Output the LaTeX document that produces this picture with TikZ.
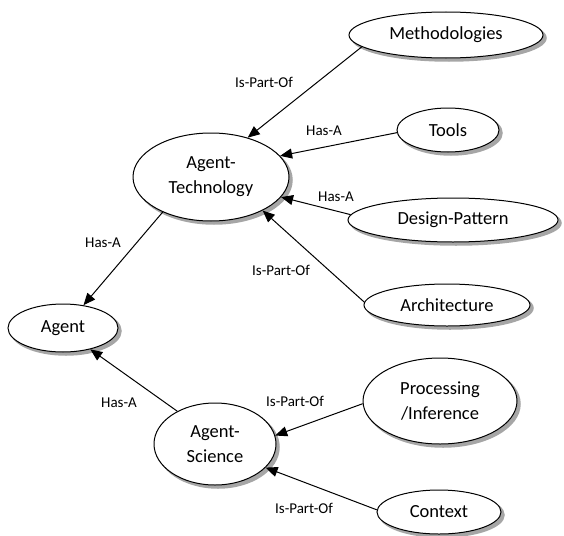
\documentclass[tikz,border=0pt]{standalone}
\usepackage{fontspec}
\setmainfont{Carlito}
\usetikzlibrary{shapes.geometric,shadows,arrows.meta}
\begin{document}
\begin{tikzpicture}[x=1pt,y=-1pt,
  concept/.style={ellipse,draw=black,line width=1pt,fill=white,inner sep=0pt,
    align=center,font=\fontsize{18.5}{25}\selectfont,
    general shadow={shadow xshift=3pt,shadow yshift=-3pt,draw=black!35,line width=1.5pt,fill=black!35}},
  rel/.style={draw=black,line width=1pt,-{Triangle[length=12pt,width=10pt]}},
  lab/.style={font=\fontsize{15}{18}\selectfont,inner sep=0pt}]
\useasboundingbox (0,0) rectangle (564,535);
\node[concept,minimum width=194pt,minimum height=46pt] (meth) at (446,35) {Methodologies};
\node[concept,minimum width=102pt,minimum height=44pt] (tools) at (448,130) {Tools};
\node[concept,minimum width=156pt,minimum height=88pt] (at) at (211,177) {Agent-\\Technology};
\node[concept,minimum width=210pt,minimum height=44pt] (dp) at (453,220) {Design-Pattern};
\node[concept,minimum width=166pt,minimum height=42pt] (arch) at (447,305) {Architecture};
\node[concept,minimum width=110pt,minimum height=48pt] (agent) at (63,328) {Agent};
\node[concept,minimum width=154pt,minimum height=86pt] (proc) at (440,401) {Processing\\/Inference};
\node[concept,minimum width=122pt,minimum height=82pt] (as) at (215,444) {Agent-\\Science};
\node[concept,minimum width=124pt,minimum height=44pt] (ctx) at (439,512) {Context};

\draw[rel] (meth.188) -- (at.47);
\draw[rel] (tools.183) -- (at.17);
\draw[rel] (dp.177) -- (at.344);
\draw[rel] (arch.178) -- (at.327);
\draw[rel] (at.216) -- (agent.48);
\draw[rel] (as.139) -- (agent.322);
\draw[rel] (proc.182) -- (as.8);
\draw[rel] (ctx.178) -- (as.335);

\node[lab] (l1) at (264,82) {Is-Part-Of};
\node[lab] (l2) at (324,131) {Has-A};
\node[lab] (l3) at (336,197) {Has-A};
\node[lab] (l4) at (281,270) {Is-Part-Of};
\node[lab] (l5) at (103,243) {Has-A};
\node[lab] (l6) at (119,403) {Has-A};
\node[lab] (l7) at (295,401) {Is-Part-Of};
\node[lab] (l8) at (304,508) {Is-Part-Of};
\end{tikzpicture}
\end{document}
